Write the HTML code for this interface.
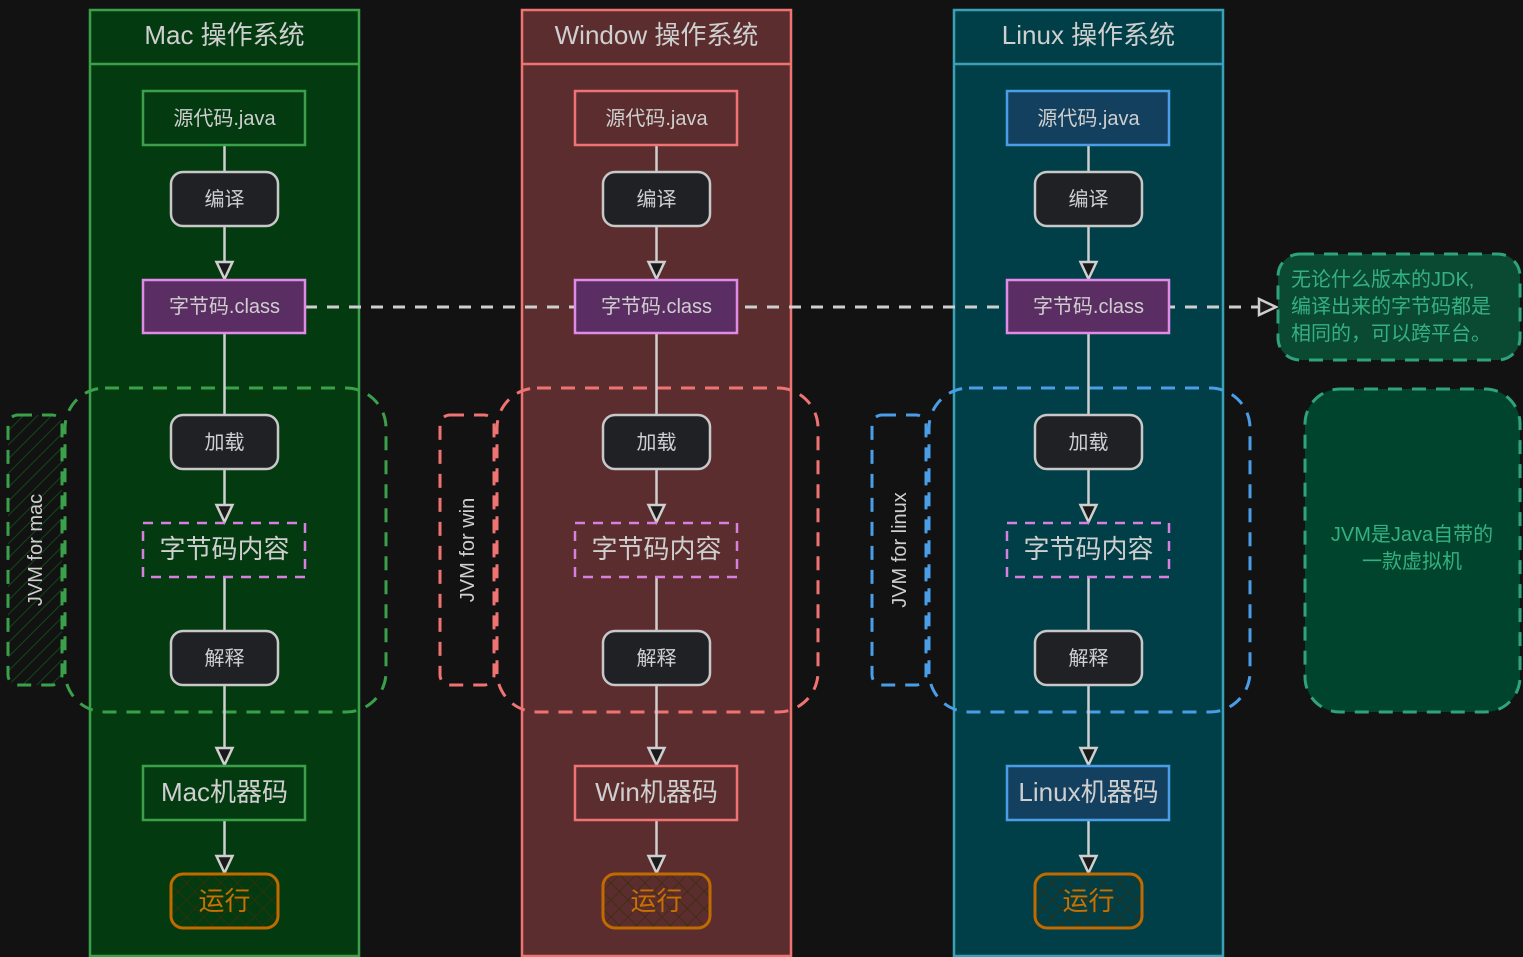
<!DOCTYPE html>
<html><head><meta charset="utf-8"><style>
html,body{margin:0;padding:0;background:#121212;}
svg{display:block;font-family:"Liberation Sans","Noto Sans CJK SC",sans-serif;}
</style></head><body>
<svg width="1523" height="957" viewBox="0 0 1523 957" xmlns="http://www.w3.org/2000/svg">
<defs>
<pattern id="hatch" width="10" height="10" patternUnits="userSpaceOnUse" patternTransform="rotate(45)">
<line x1="0" y1="0" x2="0" y2="10" stroke="#0e5a1c" stroke-width="1.5"/></pattern>
<pattern id="xh" width="12" height="12" patternUnits="userSpaceOnUse" patternTransform="rotate(45)">
<line x1="0" y1="0" x2="0" y2="12" stroke="#3a2e08" stroke-width="1.5"/>
<line x1="0" y1="0" x2="12" y2="0" stroke="#3a2e08" stroke-width="1.5"/></pattern>
<marker id="ah" markerWidth="22" markerHeight="22" refX="19" refY="10" orient="auto" markerUnits="userSpaceOnUse">
<path d="M2,2 L19,10 L2,18 Z" fill="#1a1a1a" stroke="#cfcfcf" stroke-width="2.5"/></marker>
</defs>
<rect width="1523" height="957" fill="#121212"/>

<rect x="90" y="10" width="269" height="946" fill="#033a10" stroke="#3aa14a" stroke-width="2.5"/>
<line x1="90" y1="64" x2="359" y2="64" stroke="#3aa14a" stroke-width="2.5"/>
<text x="224.5" y="44" text-anchor="middle" font-size="26" fill="#cfcfcf">Mac 操作系统</text>
<rect x="522" y="10" width="269" height="946" fill="#5b2d2e" stroke="#f07373" stroke-width="2.5"/>
<line x1="522" y1="64" x2="791" y2="64" stroke="#f07373" stroke-width="2.5"/>
<text x="656.5" y="44" text-anchor="middle" font-size="26" fill="#cfcfcf">Window 操作系统</text>
<rect x="954" y="10" width="269" height="946" fill="#003f47" stroke="#3aa0b8" stroke-width="2.5"/>
<line x1="954" y1="64" x2="1223" y2="64" stroke="#3aa0b8" stroke-width="2.5"/>
<text x="1088.5" y="44" text-anchor="middle" font-size="26" fill="#cfcfcf">Linux 操作系统</text>

<!-- dashed horizontal -->
<line x1="305" y1="307" x2="1276" y2="307" stroke="#cfcfcf" stroke-width="3" stroke-dasharray="12,10" marker-end="url(#ah)"/>

<!-- JVM dashed groups -->
<rect x="65" y="388" width="321" height="324" rx="40" fill="none" stroke="#3aa14a" stroke-width="3" stroke-dasharray="14,10"/>
<rect x="497" y="388" width="321" height="324" rx="40" fill="none" stroke="#f07373" stroke-width="3" stroke-dasharray="14,10"/>
<rect x="929" y="388" width="321" height="324" rx="40" fill="none" stroke="#4a9ee8" stroke-width="3" stroke-dasharray="14,10"/>

<rect x="8" y="415" width="54" height="270" rx="10" fill="url(#hatch)" stroke="#3aa14a" stroke-width="3" stroke-dasharray="14,10"/>
<text transform="translate(42,550) rotate(-90)" text-anchor="middle" font-size="20" fill="#cfcfcf">JVM for mac</text>
<rect x="440" y="415" width="54" height="270" rx="10" fill="none" stroke="#f07373" stroke-width="3" stroke-dasharray="14,10"/>
<text transform="translate(474,550) rotate(-90)" text-anchor="middle" font-size="20" fill="#cfcfcf">JVM for win</text>
<rect x="872" y="415" width="54" height="270" rx="10" fill="none" stroke="#4a9ee8" stroke-width="3" stroke-dasharray="14,10"/>
<text transform="translate(906,550) rotate(-90)" text-anchor="middle" font-size="20" fill="#cfcfcf">JVM for linux</text>

<g id="flow0">
<g stroke="#cfcfcf" stroke-width="2.5" fill="none">
<line x1="224.5" y1="145" x2="224.5" y2="172"/>
<line x1="224.5" y1="226" x2="224.5" y2="279" marker-end="url(#ah)"/>
<line x1="224.5" y1="333" x2="224.5" y2="415"/>
<line x1="224.5" y1="469" x2="224.5" y2="522" marker-end="url(#ah)"/>
<line x1="224.5" y1="577" x2="224.5" y2="631"/>
<line x1="224.5" y1="685" x2="224.5" y2="765" marker-end="url(#ah)"/>
<line x1="224.5" y1="820" x2="224.5" y2="873" marker-end="url(#ah)"/>
</g>
</g>
<use href="#flow0" x="432"/>
<use href="#flow0" x="864"/>

<g font-size="20" fill="#cfcfcf" text-anchor="middle">
<rect x="143" y="91" width="162" height="54" fill="#033a10" stroke="#3aa14a" stroke-width="2.5"/>
<rect x="575" y="91" width="162" height="54" fill="#5b2d2e" stroke="#f07373" stroke-width="2.5"/>
<rect x="1007" y="91" width="162" height="54" fill="#14405f" stroke="#4a9ee8" stroke-width="2.5"/>
<text x="224.5" y="125">源代码.java</text>
<text x="656.5" y="125">源代码.java</text>
<text x="1088.5" y="125">源代码.java</text>
<g fill="#1f2125" stroke="#c8c8c8" stroke-width="2.5">
<rect x="171" y="172" width="107" height="54" rx="12"/>
<rect x="603" y="172" width="107" height="54" rx="12"/>
<rect x="1035" y="172" width="107" height="54" rx="12"/>
<rect x="171" y="415" width="107" height="54" rx="12"/>
<rect x="603" y="415" width="107" height="54" rx="12"/>
<rect x="1035" y="415" width="107" height="54" rx="12"/>
<rect x="171" y="631" width="107" height="54" rx="12"/>
<rect x="603" y="631" width="107" height="54" rx="12"/>
<rect x="1035" y="631" width="107" height="54" rx="12"/>
</g>
<text x="224.5" y="206">编译</text><text x="656.5" y="206">编译</text><text x="1088.5" y="206">编译</text>
<text x="224.5" y="449">加载</text><text x="656.5" y="449">加载</text><text x="1088.5" y="449">加载</text>
<text x="224.5" y="665">解释</text><text x="656.5" y="665">解释</text><text x="1088.5" y="665">解释</text>
<g fill="#5a2d63" stroke="#e08be8" stroke-width="2.5">
<rect x="143" y="280" width="162" height="53"/>
<rect x="575" y="280" width="162" height="53"/>
<rect x="1007" y="280" width="162" height="53"/>
</g>
<text x="224.5" y="313">字节码.class</text><text x="656.5" y="313">字节码.class</text><text x="1088.5" y="313">字节码.class</text>
<g fill="none" stroke="#d880e0" stroke-width="2.5" stroke-dasharray="10,8">
<rect x="143" y="523" width="162" height="54"/>
<rect x="575" y="523" width="162" height="54"/>
<rect x="1007" y="523" width="162" height="54"/>
</g>
<g font-size="26">
<text x="224.5" y="558">字节码内容</text><text x="656.5" y="558">字节码内容</text><text x="1088.5" y="558">字节码内容</text>
</g>
<rect x="143" y="766" width="162" height="54" fill="#033a10" stroke="#3aa14a" stroke-width="2.5"/>
<rect x="575" y="766" width="162" height="54" fill="#5b2d2e" stroke="#f07373" stroke-width="2.5"/>
<rect x="1007" y="766" width="162" height="54" fill="#14405f" stroke="#4a9ee8" stroke-width="2.5"/>
<g font-size="26">
<text x="224.5" y="801">Mac机器码</text><text x="656.5" y="801">Win机器码</text><text x="1088.5" y="801">Linux机器码</text>
</g>
<g fill="url(#xh)" stroke="#c06a00" stroke-width="3">
<rect x="171" y="874" width="107" height="54" rx="12"/>
<rect x="603" y="874" width="107" height="54" rx="12"/>
<rect x="1035" y="874" width="107" height="54" rx="12"/>
</g>
<g font-size="26" fill="#c87000">
<text x="224.5" y="910">运行</text><text x="656.5" y="910">运行</text><text x="1088.5" y="910">运行</text>
</g>
</g>

<rect x="1278" y="254" width="242" height="106" rx="22" fill="#0a4a33" stroke="#2fa37a" stroke-width="3" stroke-dasharray="14,10"/>
<g font-size="20" fill="#35b080">
<text x="1291" y="286">无论什么版本的JDK,</text>
<text x="1291" y="313">编译出来的字节码都是</text>
<text x="1291" y="340">相同的，可以跨平台。</text>
</g>
<rect x="1305" y="389" width="215" height="323" rx="35" fill="#00442e" stroke="#2fa37a" stroke-width="3" stroke-dasharray="14,10"/>
<g font-size="20" fill="#35b080" text-anchor="middle">
<text x="1412" y="541">JVM是Java自带的</text>
<text x="1412" y="568">一款虚拟机</text>
</g>
</svg>
</body></html>
